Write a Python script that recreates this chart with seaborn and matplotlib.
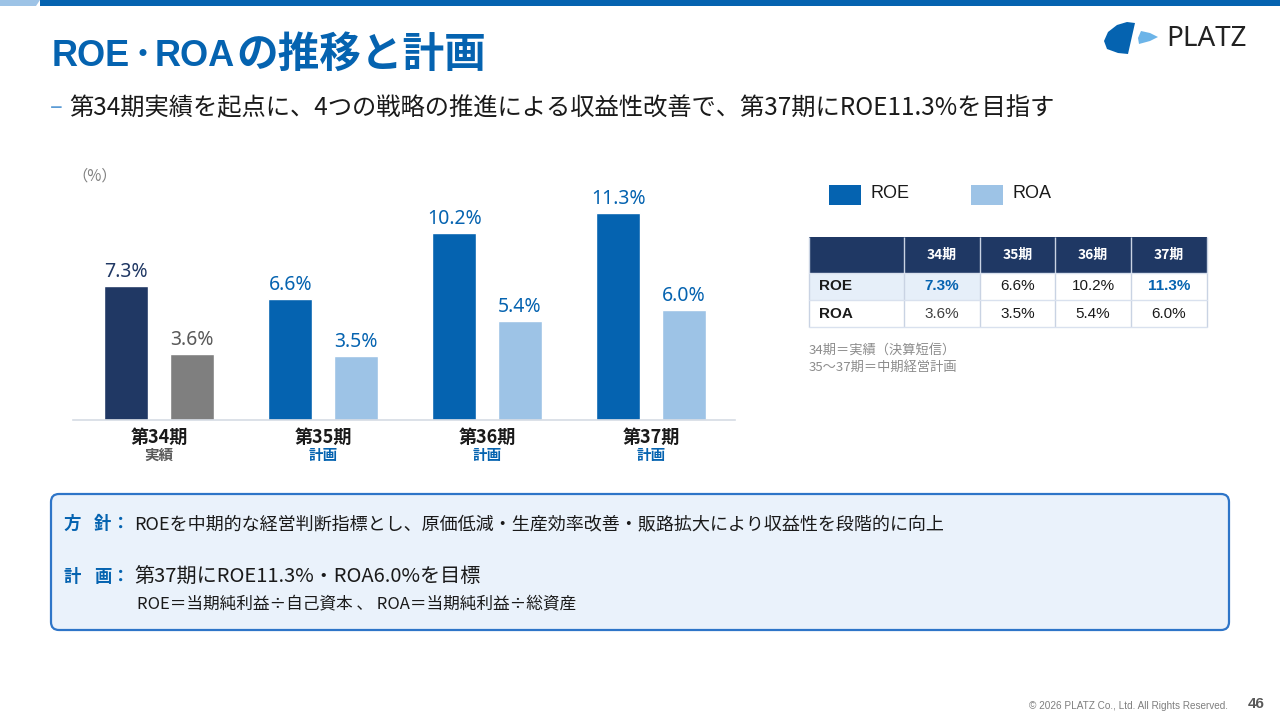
import numpy as np
import pandas as pd
import matplotlib
matplotlib.use("Agg")
import matplotlib.pyplot as plt
import seaborn as sns
from matplotlib.patches import Rectangle, Polygon, FancyBboxPatch

sns.set_style("white")
plt.rcParams['font.family'] = ['Noto Sans CJK JP', 'DejaVu Sans']

# data
periods = ['第34期', '第35期', '第36期', '第37期']
status = ['実績', '計画', '計画', '計画']
table_cols = ['34期', '35期', '36期', '37期']
roe = [7.3, 6.6, 10.2, 11.3]
roa = [3.6, 3.5, 5.4, 6.0]

BLUE = '#0563B0'
LIGHT = '#9DC3E6'
NAVY = '#203864'
GRAY = '#7F7F7F'
LATIN = ['Liberation Sans', 'DejaVu Sans']
W, H = 1280, 720

df = pd.DataFrame({
    'period': periods * 2,
    'metric': ['ROE'] * 4 + ['ROA'] * 4,
    'value': roe + roa,
})

fig = plt.figure(figsize=(12.8, 7.2), dpi=100)
fig.patch.set_facecolor('white')

# bar chart area (pixel box converted to figure fractions)
ax = fig.add_axes([73 / W, 1 - 420 / H, (735 - 73) / W, (420 - 165) / H])
sns.barplot(data=df, x='period', y='value', hue='metric', order=periods,
            hue_order=['ROE', 'ROA'], palette=[BLUE, LIGHT], width=0.8,
            gap=0.33, saturation=1, legend=False, ax=ax)
ax.set_ylim(0, 13.9)
ax.set_xlim(-0.524, 3.51)
ax.set_xlabel('')
ax.set_ylabel('')
ax.set_xticks([])
ax.set_yticks([])
for s in ['top', 'left', 'right']:
    ax.spines[s].set_visible(False)
ax.spines['bottom'].set_color('#D6DCE4')
ax.spines['bottom'].set_linewidth(1.2)

# first period is actuals: different colours
roe_bars, roa_bars = ax.containers[0], ax.containers[1]
roe_bars[0].set_facecolor(NAVY)
roa_bars[0].set_facecolor(GRAY)

lbl_font = ['Noto Sans', 'DejaVu Sans']
roe_lbl = ax.bar_label(roe_bars, fmt='{:.1f}%', padding=3, fontsize=14,
                       family=lbl_font, fontweight='medium')
roa_lbl = ax.bar_label(roa_bars, fmt='{:.1f}%', padding=3, fontsize=14,
                       family=lbl_font, fontweight='medium')
for i, t in enumerate(roe_lbl):
    t.set_color(NAVY if i == 0 else BLUE)
for i, t in enumerate(roa_lbl):
    t.set_color('#595959' if i == 0 else BLUE)

tr = ax.get_xaxis_transform()
for i, (p, s) in enumerate(zip(periods, status)):
    ax.text(i, -0.07, p, transform=tr, ha='center', va='center',
            fontsize=13, fontweight='bold', color='#1A1A1A')
    ax.text(i, -0.137, s, transform=tr, ha='center', va='center',
            fontsize=10.5, fontweight='bold',
            color='#595959' if s == '実績' else BLUE)

# overlay in pixel coordinates for the slide furniture
ov = fig.add_axes([0, 0, 1, 1], facecolor='none')
ov.set_xlim(0, W)
ov.set_ylim(H, 0)
ov.axis('off')

# top band
ov.add_patch(Polygon([(0, 0), (40, 0), (36, 6), (0, 6)], color=LIGHT, lw=0))
ov.add_patch(Rectangle((40, 0), W - 40, 6, color=BLUE, lw=0))

# title (latin and CJK parts set separately to match the spacing)
ov.text(52, 56, 'ROE', fontsize=26, fontweight='bold', color=BLUE, va='center',
        ha='left', family=LATIN)
ov.text(143, 56, '･', fontsize=26, fontweight='bold', color=BLUE, va='center', ha='center')
ov.text(155, 56, 'ROA', fontsize=26, fontweight='bold', color=BLUE, va='center',
        ha='left', family=LATIN)
ov.text(236, 55, 'の推移と計画', fontsize=30, fontweight='bold', color=BLUE,
        va='center', ha='left')

# subtitle
ov.text(50, 108, '–', fontsize=17, color='#5B9BD5', va='center', ha='left')
ov.text(69, 108, '第34期実績を起点に、4つの戦略の推進による収益性改善で、第37期にROE11.3%を目指す',
        fontsize=17.5, color='#1A1A1A', va='center', ha='left')

# logo
ov.add_patch(Polygon([(1127, 22), (1135, 23), (1128, 54), (1118, 53), (1107, 49),
                      (1104, 41), (1108, 32), (1117, 25)], color=BLUE, lw=0))
ov.add_patch(Polygon([(1141, 31), (1150, 33), (1158, 37), (1150, 41), (1139, 44),
                      (1138, 38)], color='#6CB4E8', lw=0))
ov.text(1166, 39, 'PLATZ', fontsize=20, color='#222222', va='center', ha='left',
        family=['Noto Sans', 'DejaVu Sans'])

# unit
ov.text(72, 176, '（%）', fontsize=11, color='#7F7F7F', va='center', ha='left')

# legend
ov.add_patch(Rectangle((829, 185), 32, 20, color=BLUE, lw=0))
ov.text(870, 193, 'ROE', fontsize=13, color='#1A1A1A', va='center', ha='left', family=LATIN)
ov.add_patch(Rectangle((971, 185), 32, 20, color=LIGHT, lw=0))
ov.text(1012, 193, 'ROA', fontsize=13, color='#1A1A1A', va='center', ha='left', family=LATIN)

# table
col_x = [809, 904, 980, 1055, 1131, 1207]
row_y = [237, 273, 300, 327]
grid = '#D9E1EE'
ov.add_patch(Rectangle((col_x[0], row_y[0]), col_x[-1] - col_x[0], row_y[1] - row_y[0],
                       color='#1F3864', lw=0))
ov.add_patch(Rectangle((col_x[0], row_y[1]), col_x[2] - col_x[0], row_y[2] - row_y[1],
                       color='#E6EFF9', lw=0))
for x in col_x:
    ov.plot([x, x], [row_y[0], row_y[-1]], color='#C9D3E3', lw=1, solid_capstyle='butt')
for y in row_y[1:]:
    ov.plot([col_x[0], col_x[-1]], [y, y], color=grid, lw=1)
for j, c in enumerate(table_cols):
    cx = (col_x[j + 1] + col_x[j + 2]) / 2
    ov.text(cx, (row_y[0] + row_y[1]) / 2, c, fontsize=10, fontweight='bold',
            color='white', ha='center', va='center')
for r, (name, vals) in enumerate([('ROE', roe), ('ROA', roa)]):
    cy = (row_y[r + 1] + row_y[r + 2]) / 2
    ov.text(819, cy, name, fontsize=11, fontweight='bold', color='#1A1A1A',
            ha='left', va='center', family=LATIN)
    for j, v in enumerate(vals):
        cx = (col_x[j + 1] + col_x[j + 2]) / 2
        hl = name == 'ROE' and j in (0, 3)
        ov.text(cx, cy, f'{v:.1f}%', fontsize=11,
                fontweight='bold' if hl else 'normal',
                color=BLUE if hl else ('#404040' if j == 0 else '#1A1A1A'),
                ha='center', va='center', family=LATIN)

ov.text(809, 350, '34期＝実績（決算短信）', fontsize=9.5, color='#8C8C8C', va='center', ha='left')
ov.text(809, 367, '35～37期＝中期経営計画', fontsize=9.5, color='#8C8C8C', va='center', ha='left')

# policy box
ov.add_patch(FancyBboxPatch((51, 494), 1178, 136, boxstyle='round,pad=0,rounding_size=8',
                            facecolor='#EAF2FB', edgecolor='#2E75C8', lw=1.6))
for y, (a, b) in [(524, ('方', '針')), (577, ('計', '画'))]:
    ov.text(63, y, a, fontsize=12.5, fontweight='bold', color=BLUE, va='center', ha='left')
    ov.text(94, y, b, fontsize=12.5, fontweight='bold', color=BLUE, va='center', ha='left')
    ov.text(112, y, '：', fontsize=12.5, fontweight='bold', color=BLUE, va='center', ha='left')
ov.text(134, 524, 'ROEを中期的な経営判断指標とし、原価低減・生産効率改善・販路拡大により収益性を段階的に向上',
        fontsize=13, color='#1A1A1A', va='center', ha='left')
ov.text(134, 577, '第37期にROE11.3%・ROA6.0%を目標', fontsize=14.5, color='#1A1A1A',
        va='center', ha='left')
ov.text(137, 604, 'ROE＝当期純利益÷自己資本 、 ROA＝当期純利益÷総資産', fontsize=12,
        color='#1A1A1A', va='center', ha='left')

# footer
ov.text(1228, 706, '© 2026 PLATZ Co., Ltd. All Rights Reserved.', fontsize=7.2,
        color='#7F7F7F', va='center', ha='right', family=LATIN)
ov.text(1265, 704, '46', fontsize=11, fontweight='bold', color='#595959', va='center',
        ha='right', family=LATIN)

fig.savefig('out.png', dpi=100, facecolor='white')
